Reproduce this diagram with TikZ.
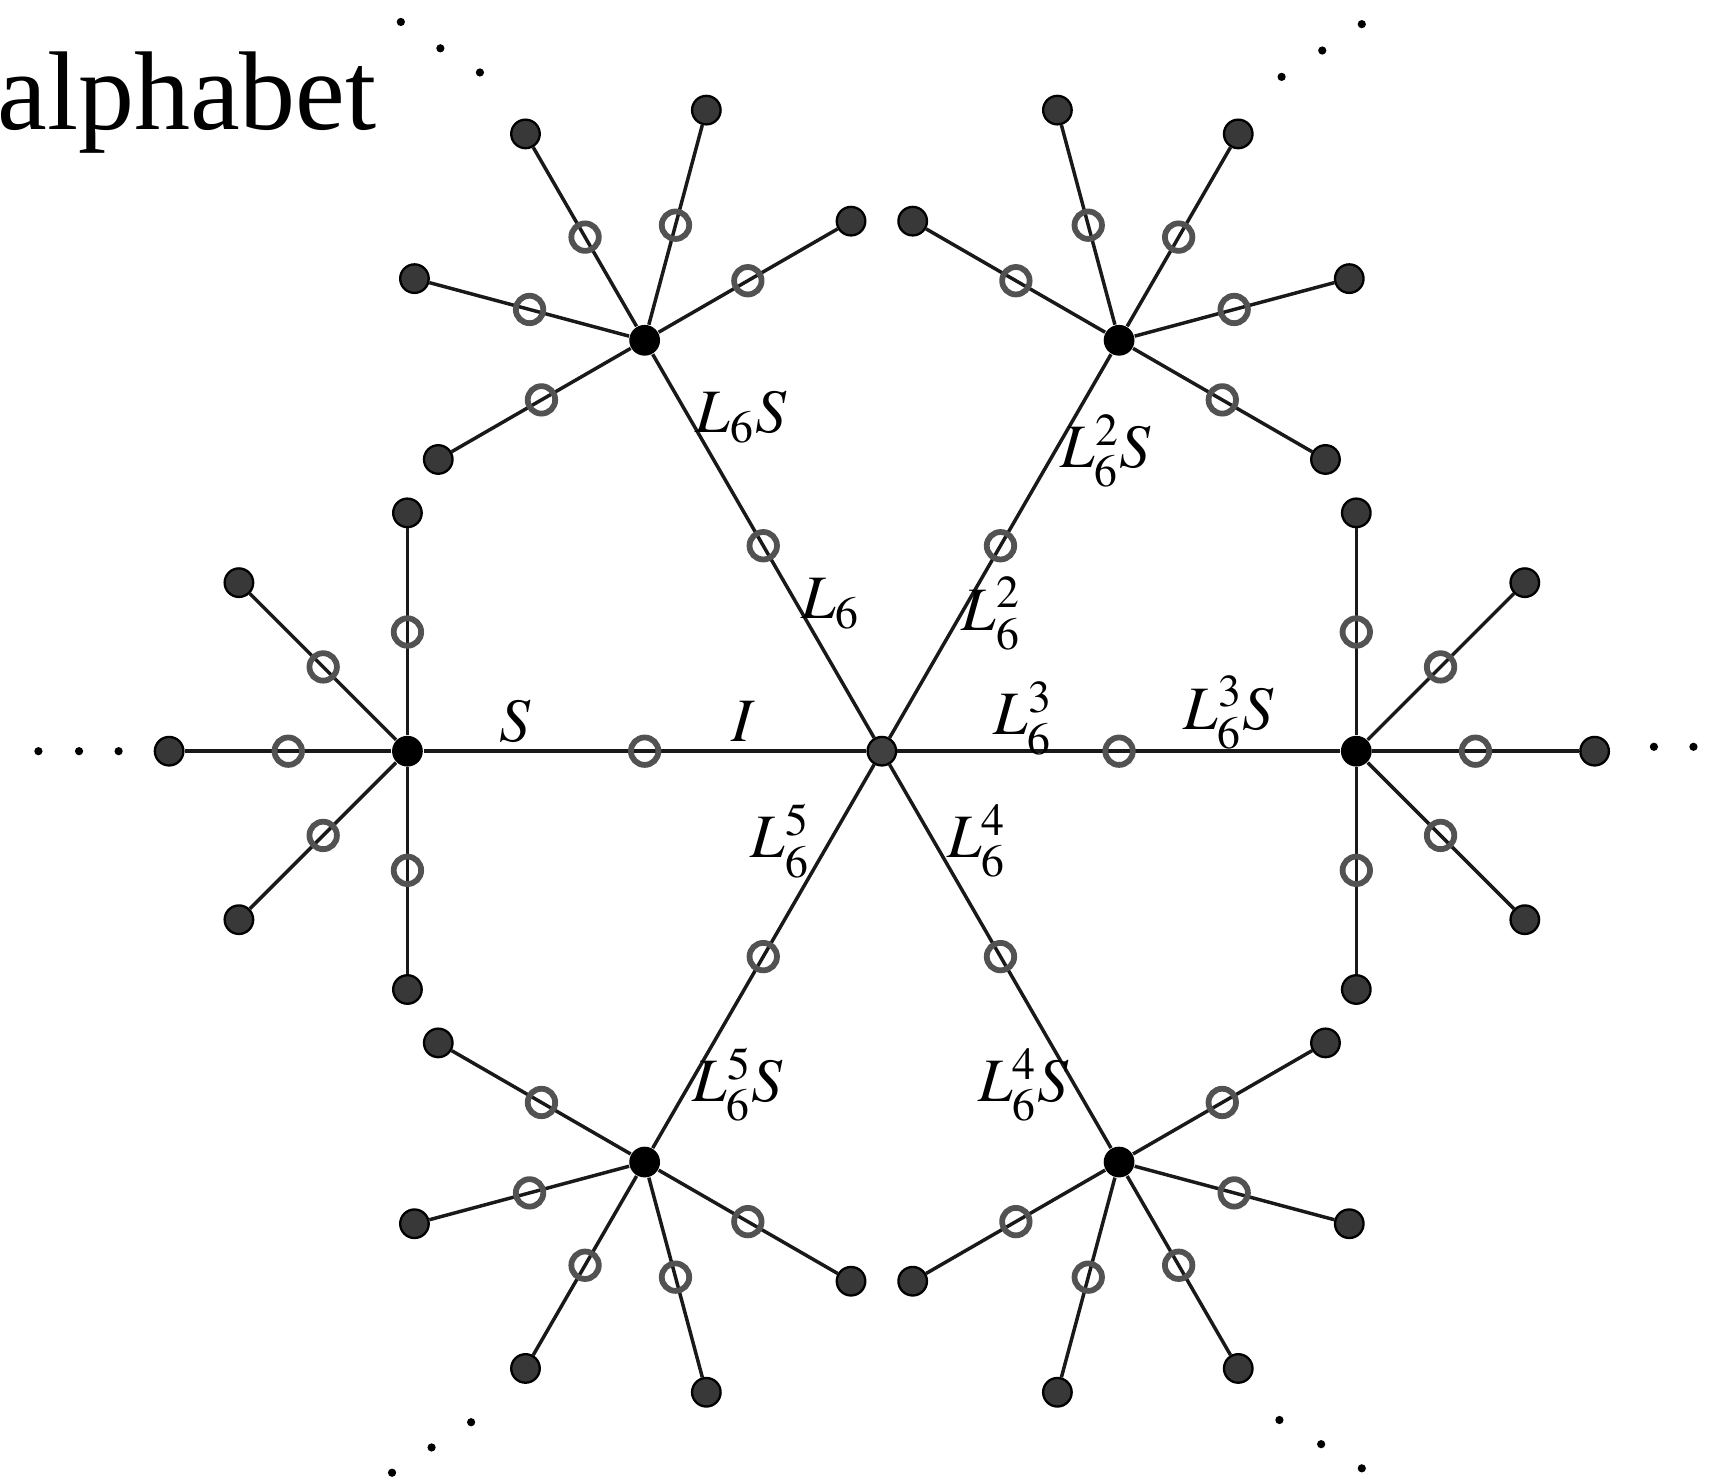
\documentclass[tikz,border=0pt]{standalone}
\usepackage{mathptmx}
\usepackage{fontspec}
\setmainfont{Liberation Serif}
\usetikzlibrary{positioning, calc}
\tikzset{
    edge/.style={line width=0.9pt, draw=black!90},
    hub/.style={circle, draw=black, fill=black!75, line width=0.6pt, inner sep=0pt, minimum size=0.26cm},
    knot/.style={circle, fill=black, inner sep=0pt, minimum size=0.28cm},
    leaf/.style={circle, draw=black, fill=black!78, line width=0.6pt, inner sep=0pt, minimum size=0.26cm},
    ring/.style={circle, draw=black!68, line width=1.5pt, inner sep=0pt, minimum size=0.25cm},
    lbl/.style={inner sep=0pt, anchor=base west, font=\fontsize{16}{16}\selectfont},
    dotty/.style={circle, fill=black, inner sep=0pt, minimum size=0.075cm}
}

\begin{document}
\begin{tikzpicture}
    \useasboundingbox (-8.03,-6.67) rectangle (7.65,6.84);
    \node (title) [anchor=base west, inner sep=0pt, font=\fontsize{29}{29}\selectfont] at (-8.06,5.66) {alphabet};

    \node (c) [hub] at (0,0) {};
    \foreach \a [count=\i] in {0,60,...,300} {
        \node (k\i) [knot] at (\a:4.32) {};
        \draw [edge] (c) -- (k\i);
        \node (m\i) [ring] at (\a:2.16) {};
        \foreach \b [count=\j] in {-90,-45,0,45,90} {
            \node (l\i\j) [leaf] at ($(k\i)+(\a+\b:2.17)$) {};
            \draw [edge] (k\i) -- (l\i\j);
            \node (r\i\j) [ring] at ($(k\i)+(\a+\b:1.085)$) {};
        }
    }

    % edge labels
    \node (tS) [lbl] at (-3.49,0.09) {$S$};
    \node (tI) [lbl] at (-1.38,0.09) {$I$};
    \node (tL1) [lbl] at (-0.74,1.21) {$L_6$};
    \node (tL2) [lbl] at (0.72,1.10) {$L_6^2$};
    \node (tL3) [lbl] at (1.01,0.15) {$L_6^3$};
    \node (tL4) [lbl] at (0.59,-0.97) {$L_6^4$};
    \node (tL5) [lbl] at (-1.20,-0.97) {$L_6^5$};
    \node (tL1S) [lbl] at (-1.70,2.90) {$L_6S$};
    \node (tL2S) [lbl] at (1.62,2.58) {$L_6^2S$};
    \node (tL3S) [lbl] at (2.74,0.20) {$L_6^3S$};
    \node (tL4S) [lbl] at (0.87,-3.19) {$L_6^4S$};
    \node (tL5S) [lbl] at (-1.73,-3.19) {$L_6^5S$};

    % continuation dots
    \foreach \p [count=\n] in {(-7.68,0),(-7.31,0),(-6.95,0),(7.03,0.04),(7.39,0.04),
        (-4.38,6.64),(-4.02,6.40),(-3.66,6.18),(3.64,6.14),(4.01,6.38),(4.37,6.62),
        (-4.46,-6.57),(-4.10,-6.34),(-3.74,-6.11),(3.62,-6.09),(4.00,-6.31),(4.37,-6.53)}
        \node (d\n) [dotty] at \p {};
\end{tikzpicture}
\end{document}
